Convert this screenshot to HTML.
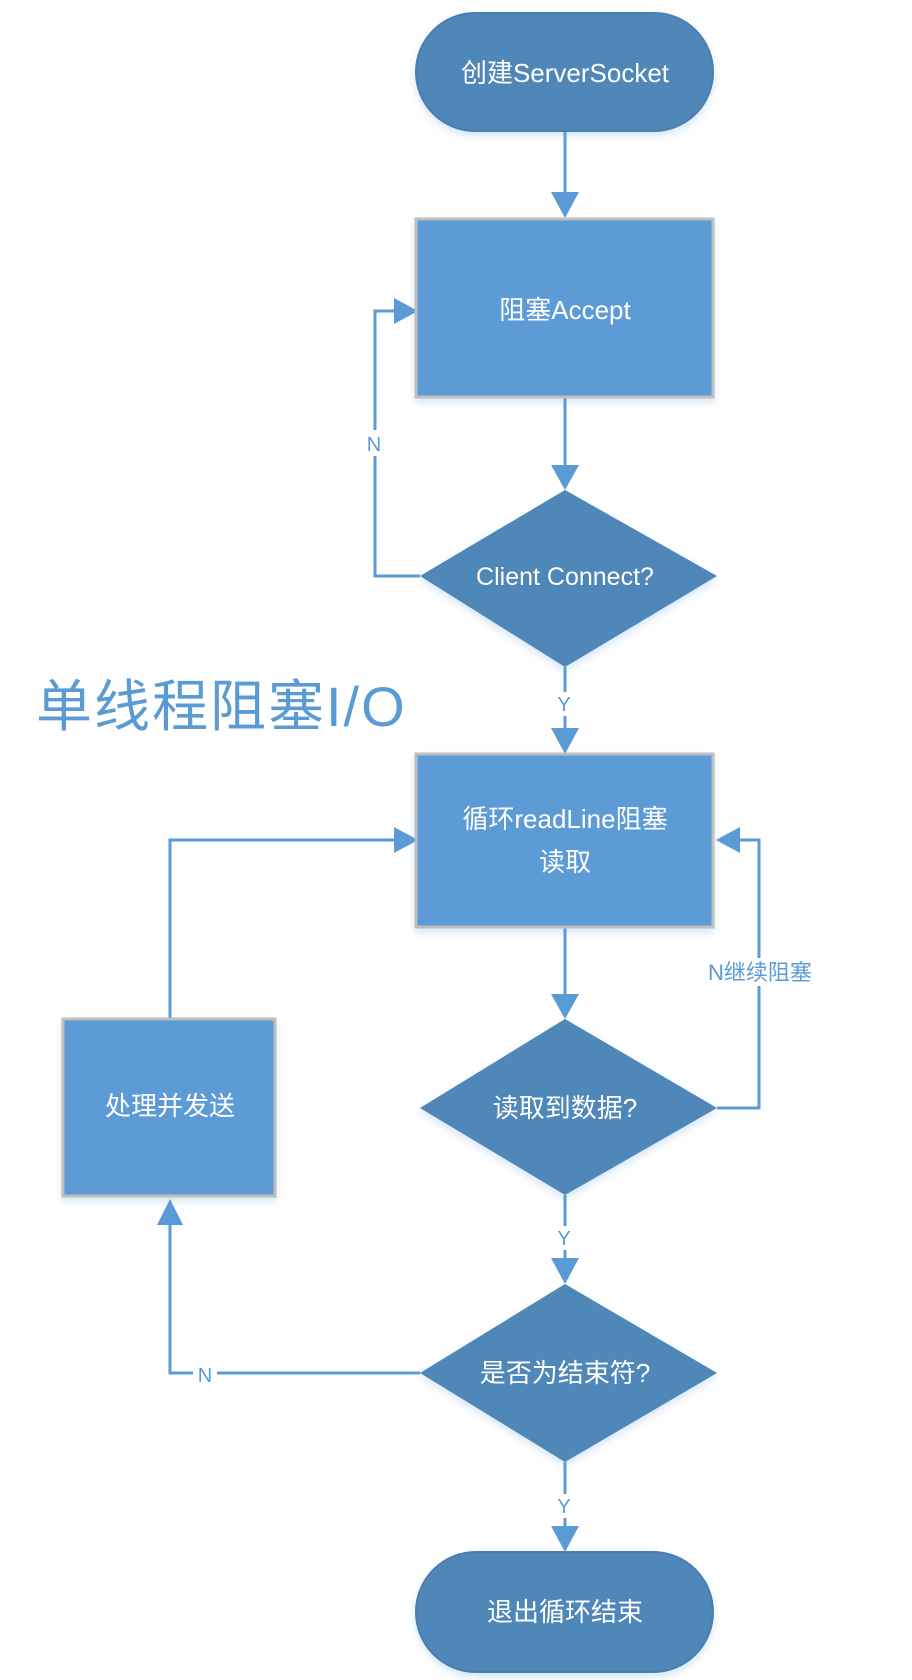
<!DOCTYPE html>
<html><head><meta charset="utf-8"><style>
html,body{margin:0;padding:0;background:#fff;}
svg{display:block;}
text{font-family:"Liberation Sans","Noto Sans CJK SC",sans-serif;}
</style></head><body>
<svg width="912" height="1680" viewBox="0 0 912 1680" xmlns="http://www.w3.org/2000/svg">
<defs>
<filter id="sh" x="-10%" y="-10%" width="120%" height="130%"><feDropShadow dx="0" dy="4" stdDeviation="4" flood-color="#5b9bd5" flood-opacity="0.25"/></filter>
</defs>
<g stroke="#5b9bd5" stroke-width="3" fill="none">
<line x1="565" y1="131" x2="565" y2="195"/>
<line x1="565" y1="397" x2="565" y2="465"/>
<polyline points="420,576 375,576 375,311 396,311"/>
<line x1="565" y1="667" x2="565" y2="730"/>
<polyline points="565,927 565,995"/>
<polyline points="717,1108 759,1108 759,840 738,840"/>
<polyline points="170,1019 170,840 396,840"/>
<line x1="565" y1="1195" x2="565" y2="1258"/>
<polyline points="420,1373 170,1373 170,1225"/>
<line x1="565" y1="1462" x2="565" y2="1526"/>
</g>
<g fill="#5b9bd5">
<polygon points="551,192 579,192 565,218"/>
<polygon points="551,465 579,465 565,490"/>
<polygon points="394,298 394,324 418,311"/>
<polygon points="551,728 579,728 565,754"/>
<polygon points="551,994 579,994 565,1019"/>
<polygon points="394,827 394,853 418,840"/>
<polygon points="740,827 740,853 716,840"/>
<polygon points="551,1258 579,1258 565,1284"/>
<polygon points="157,1225 183,1225 170,1199"/>
<polygon points="551,1526 579,1526 565,1552"/>
</g>
<g filter="url(#sh)">
<rect x="416" y="13" width="297" height="118" rx="59" fill="#4f87b8" stroke="#4a7fb0" stroke-width="2"/>
<rect x="416" y="219" width="297" height="178" fill="#5b9bd5" stroke="#bfbfbf" stroke-width="3"/>
<polygon points="565,490 717,576 565,667 420,576" fill="#4f87b8"/>
<rect x="416" y="754" width="297" height="173" fill="#5b9bd5" stroke="#bfbfbf" stroke-width="3"/>
<polygon points="565,1019 717,1108 565,1195 420,1108" fill="#4f87b8"/>
<rect x="63" y="1019" width="212" height="177" fill="#5b9bd5" stroke="#bfbfbf" stroke-width="3"/>
<polygon points="565,1284 717,1373 565,1462 420,1373" fill="#4f87b8"/>
<rect x="416" y="1552" width="297" height="120" rx="60" fill="#4f87b8" stroke="#4a7fb0" stroke-width="2"/>
</g>
<g fill="#fff" font-size="26" text-anchor="middle">
<text x="565" y="82">创建ServerSocket</text>
<text x="565" y="319">阻塞Accept</text>
<text x="565" y="585" font-size="25">Client Connect?</text>
<text x="565" y="828">循环readLine阻塞</text>
<text x="565" y="871">读取</text>
<text x="565" y="1117">读取到数据?</text>
<text x="170" y="1115">处理并发送</text>
<text x="565" y="1382">是否为结束符?</text>
<text x="565" y="1621">退出循环结束</text>
</g>
<g fill="#5b9bd5" font-size="20" text-anchor="middle">
<rect x="362" y="430" width="24" height="26" fill="#fff"/>
<text x="374" y="451">N</text>
<rect x="553" y="692" width="24" height="24" fill="#fff"/>
<text x="564" y="711">Y</text>
<rect x="680" y="958" width="160" height="28" fill="#fff"/>
<text x="760" y="980" font-size="22">N继续阻塞</text>
<rect x="553" y="1226" width="24" height="24" fill="#fff"/>
<text x="564" y="1245">Y</text>
<rect x="193" y="1362" width="24" height="24" fill="#fff"/>
<text x="205" y="1382">N</text>
<rect x="553" y="1494" width="24" height="24" fill="#fff"/>
<text x="564" y="1513">Y</text>
</g>
<text x="36" y="726" font-size="56" letter-spacing="2" fill="#5b9bd5">单线程阻塞I/O</text>
</svg>
</body></html>
